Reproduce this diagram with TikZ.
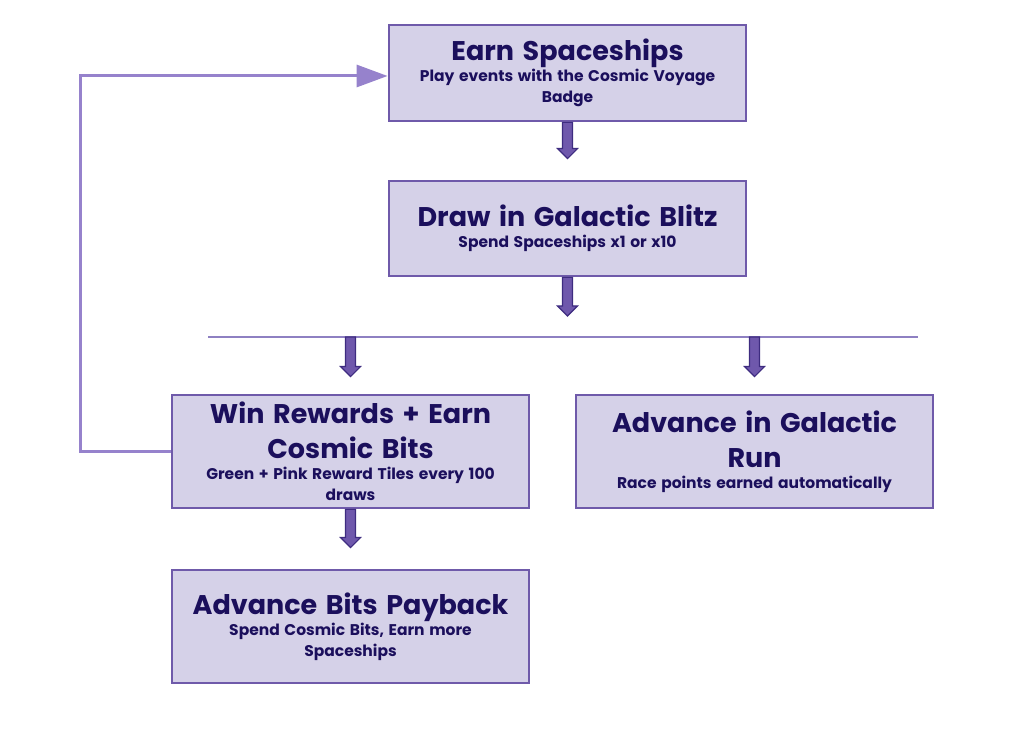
\documentclass[tikz,border=0pt]{standalone}
\usepackage{fontspec}
\setmainfont{Poppins}
\usepackage{tikz}
\usepackage{xcolor}
\usetikzlibrary{arrows.meta,positioning,calc}
\definecolor{navytext}{HTML}{1B0F5C}
\definecolor{boxfill}{HTML}{D5D1E8}
\definecolor{boxline}{HTML}{6F5AAA}
\definecolor{arrfill}{HTML}{6F58AC}
\definecolor{arrline}{HTML}{3E2C80}
\definecolor{loopcol}{HTML}{9682CC}
\definecolor{splitcol}{HTML}{8E80C2}
\newcommand{\boxtitle}[1]{{\fontsize{27}{35}\selectfont\bfseries\spaceskip=0.32em #1\par}}
\newcommand{\boxnote}[1]{{\fontsize{15.5}{21}\selectfont\bfseries\spaceskip=0.3em #1\par}}
% downward block arrow from #1 to #2
\newcommand{\blockdown}[2]{%
  \draw[blockarrow] ($(#1)+(-5,0)$) -- ($(#2)+(-5,10)$) -- ($(#2)+(-10,10)$) -- (#2)
    -- ($(#2)+(10,10)$) -- ($(#2)+(5,10)$) -- ($(#1)+(5,0)$) -- cycle;}

\begin{document}
\begin{tikzpicture}[
  x=1pt, y=1pt,
  stepbox/.style={draw=boxline, fill=boxfill, line width=2.8pt, minimum width=357pt,
    inner sep=0pt, text width=350pt, align=center, text=navytext},
  blockarrow/.style={draw=arrline, fill=arrfill, line width=1.2pt, line join=miter},
  loopline/.style={draw=loopcol, line width=3pt, -{Triangle[length=31pt, width=22pt]}},
  splitline/.style={draw=splitcol, line width=1.3pt}
]
\useasboundingbox (0,0) rectangle (1024,730);
% boxes
\node[stepbox, minimum height=96pt] (earn) at (567.5,657) {%
  \boxtitle{Earn Spaceships}\boxnote{Play events with the Cosmic Voyage\\Badge}};
\node[stepbox, minimum height=95pt] (draw) at (567.5,501.5) {%
  \boxtitle{Draw in Galactic Blitz}\boxnote{Spend Spaceships x1 or x10}};
\node[stepbox, minimum height=113pt] (win) at (350.5,278.5) {%
  \boxtitle{Win Rewards + Earn\\Cosmic Bits}\boxnote{Green + Pink Reward Tiles every 100\\draws}};
\node[stepbox, minimum height=113pt] (run) at (754.5,278.5) {%
  \boxtitle{Advance in Galactic\\Run}\boxnote{Race points earned automatically}};
\node[stepbox, minimum height=113pt] (payback) at (350.5,103.5) {%
  \boxtitle{Advance Bits Payback}\boxnote{Spend Cosmic Bits, Earn more\\Spaceships}};
% split line
\coordinate (splitL) at (208,393);
\coordinate (splitR) at (918,393);
\draw[splitline] (splitL) -- (splitR);
\coordinate (splitW) at (350.5,393);
\coordinate (splitE) at (754.5,393);
% arrow ends
\coordinate (tipA) at ($(draw.north)+(0,21)$);
\coordinate (tipB) at (567.5,414);
\coordinate (tipC) at ($(win.north)+(0,17)$);
\coordinate (tipD) at ($(run.north)+(0,17)$);
\coordinate (tipE) at ($(payback.north)+(0,21)$);
\blockdown{earn.south}{tipA}
\blockdown{draw.south}{tipB}
\blockdown{splitW}{tipC}
\blockdown{splitE}{tipD}
\blockdown{win.south}{tipE}
% feedback loop
\draw[loopline] (win.west) -- ++(-90,0) |- ($(earn.west)+(0,-3)$);
\end{tikzpicture}
\end{document}
